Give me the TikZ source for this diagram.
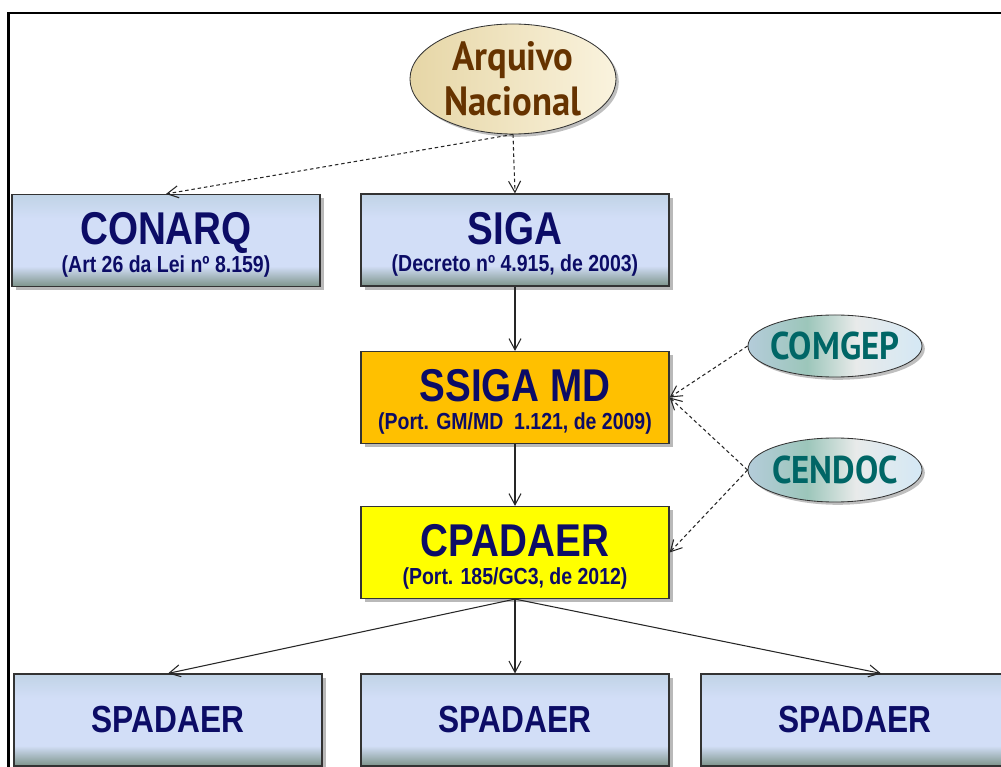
\documentclass[tikz,border=0pt]{standalone}
\usepackage{fontspec}
\usepackage{tikz}
\usetikzlibrary{arrows.meta,shadows,calc,shapes.geometric}
\newfontfamily\boxfont[FakeStretch=0.84]{Liberation Sans}
\newfontfamily\ovalfont[FakeStretch=0.9]{PT Sans}
\newcommand\subline[1]{{\fontsize{16.5}{19}\selectfont #1}}
\newcommand\headline[1]{\rule{0pt}{29pt}#1}
\definecolor{navytext}{RGB}{12,12,102}
\definecolor{browntext}{RGB}{102,51,0}
\definecolor{tealtext}{RGB}{0,102,102}
\definecolor{boxtop}{RGB}{192,211,230}
\definecolor{boxmid}{RGB}{210,222,247}
\definecolor{boxfoot}{RGB}{125,148,138}
\definecolor{ssigafill}{RGB}{255,192,0}
\definecolor{cpadaerfill}{RGB}{255,255,0}
\definecolor{creamlight}{RGB}{250,243,222}
\definecolor{creamdark}{RGB}{230,214,166}
\definecolor{ovalsteel}{RGB}{180,204,218}
\definecolor{ovalteal}{RGB}{156,198,186}
\definecolor{ovalwhite}{RGB}{232,234,234}
\definecolor{ovalpale}{RGB}{212,232,245}
\pgfdeclareverticalshading{boxshade}{100bp}{color(0bp)=(boxfoot); color(25bp)=(boxfoot); color(36bp)=(boxmid); color(62bp)=(boxmid); color(75bp)=(boxtop); color(100bp)=(boxtop)}
\pgfdeclarehorizontalshading{ovalshade}{100bp}{color(0bp)=(ovalsteel); color(25bp)=(ovalsteel); color(42bp)=(ovalteal); color(56bp)=(ovalwhite); color(75bp)=(ovalpale); color(100bp)=(ovalpale)}
\begin{document}
\begin{tikzpicture}[x=0.025cm,y=-0.025cm,
  box/.style={draw=black!80, line width=0.8pt, minimum width=7.7cm, minimum height=2.3cm,
    align=center, text=navytext, font=\boxfont\bfseries\fontsize{32.7}{19.5}\selectfont,
    drop shadow={shadow xshift=0.09cm, shadow yshift=-0.09cm, opacity=0.55}},
  bluebox/.style={box, shading=boxshade},
  oval/.style={ellipse, draw=black!80, line width=0.6pt, inner ysep=0pt, align=center,
    drop shadow={shadow xshift=0.07cm, shadow yshift=-0.07cm, opacity=0.5}},
  link/.style={-{Straight Barb[length=0.28cm,width=0.3cm]}, line width=0.75pt, black!85},
  dlink/.style={link, dash pattern=on 2.5pt off 2pt}]
\useasboundingbox (0,0) rectangle (1001,767);
\draw[line width=2.1pt] (8.5,790) -- (8.5,13) -- (1020,13);
\node[oval, minimum width=5.15cm, minimum height=2.75cm, inner xsep=0pt, inner ysep=-0.15cm,
  text=browntext, left color=creamdark, right color=creamlight,
  font=\ovalfont\bfseries\fontsize{29}{32}\selectfont] (an) at (513,79) {Arquivo\\Nacional};
\node[bluebox] (conarq) at (166,240.5) {\headline{CONARQ}\\\subline{(Art 26 da Lei nº 8.159)}};
\node[bluebox] (siga) at (515,240) {\headline{SIGA}\\\subline{(Decreto nº 4.915, de 2003)}};
\node[box, fill=ssigafill] (ssiga) at (515,397.5) {\headline{SSIGA MD}\\\subline{(Port. GM/MD\ \ 1.121, de 2009)}};
\node[box, fill=cpadaerfill] (cpadaer) at (515,552.5) {\headline{CPADAER}\\\subline{(Port. 185/GC3, de 2012)}};
\node[oval, minimum width=4.35cm, minimum height=1.55cm, inner xsep=-0.25cm, shading=ovalshade,
  text=tealtext, font=\ovalfont\bfseries\fontsize{27.5}{30}\selectfont] (comgep) at (835,346) {COMGEP};
\node[oval, minimum width=4.35cm, minimum height=1.6cm, inner xsep=-0.25cm, shading=ovalshade,
  text=tealtext, font=\ovalfont\bfseries\fontsize{27.5}{30}\selectfont] (cendoc) at (835,470) {CENDOC};
\node[bluebox, font=\boxfont\bfseries\fontsize{26.8}{30}\selectfont] (sp1) at (168,720) {SPADAER};
\node[bluebox, font=\boxfont\bfseries\fontsize{26.8}{30}\selectfont] (sp2) at (515,720) {SPADAER};
\node[bluebox, font=\boxfont\bfseries\fontsize{26.8}{30}\selectfont] (sp3) at (855,720) {SPADAER};
\draw[dlink] (an.south) -- (conarq.north);
\draw[dlink] (an.south) -- (siga.north);
\draw[link] (siga.south) -- (ssiga.north);
\draw[link] (ssiga.south) -- (cpadaer.north);
\draw[dlink] (comgep.west) -- (ssiga.east);
\draw[dlink] (cendoc.west) -- (ssiga.east);
\draw[dlink] (cendoc.west) -- (cpadaer.east);
\draw[link] (cpadaer.south) -- (sp1.north);
\draw[link] (cpadaer.south) -- (sp2.north);
\draw[link] (cpadaer.south) -- ($(sp3.north)+(26,0)$);
\end{tikzpicture}
\end{document}
